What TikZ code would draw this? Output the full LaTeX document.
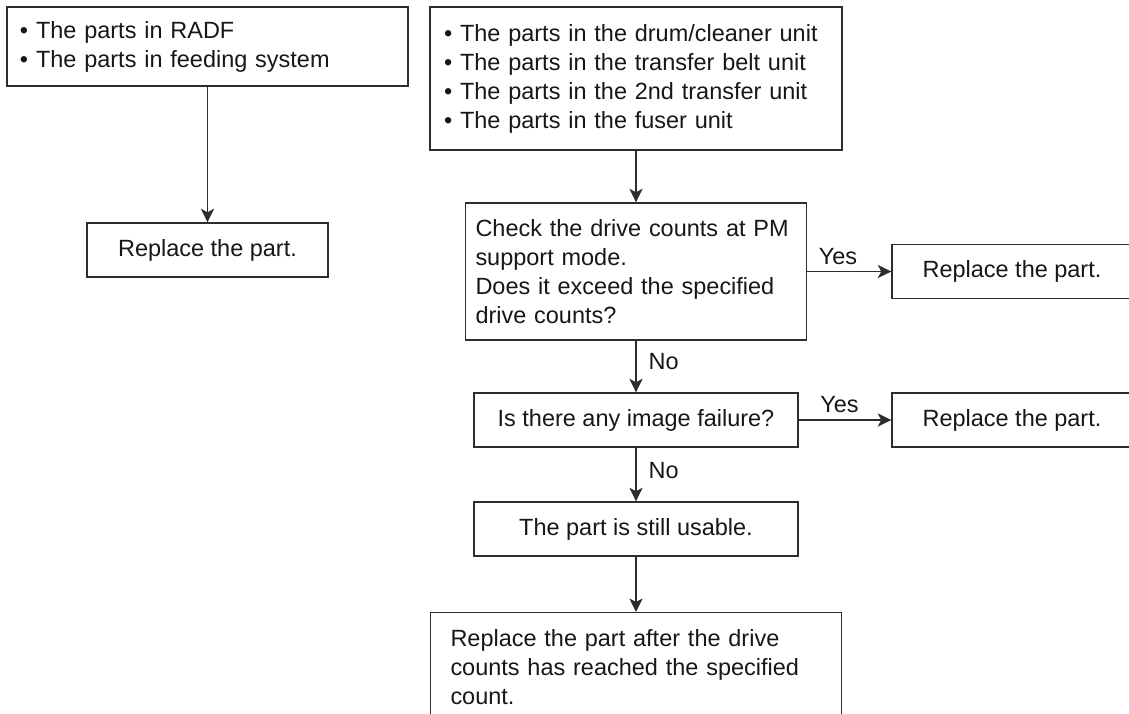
\documentclass[tikz,border=0pt]{standalone}
\usepackage{fontspec}
\setmainfont{Liberation Sans}
\usetikzlibrary{arrows.meta}
\definecolor{linegray}{RGB}{45,45,45}
\definecolor{textblack}{RGB}{25,22,23}

\begin{document}
\begin{tikzpicture}[
    font=\fontsize{16.7pt}{20.63pt}\selectfont,
    >={Stealth[length=0.34cm,width=0.33cm,inset=0.09cm]},
    box/.style={draw=linegray, line width=1pt, text=textblack, inner sep=2pt},
    conn/.style={->, draw=linegray, line width=1pt},
    lbl/.style={text=textblack, inner sep=4.5pt}
]
    \clip (0,0) rectangle (28.225,-17.825);
    % Left column
    \node[box, align=left, text width=9.375cm, inner xsep=0.325cm, minimum height=1.975cm] (radf) at (5.1875,-1.1625)
        {• The parts in RADF\\ • The parts in feeding system};
    \node[box, minimum width=6.025cm, minimum height=1.35cm] (rep1) at (5.1875,-6.25) {Replace the part.};
    \draw[conn] (radf) -- (rep1);
    % Main column
    \node[box, align=left, text width=9.6cm, inner xsep=0.35cm, minimum height=3.575cm] (units) at (15.9,-1.9625)
        {• The parts in the drum/cleaner unit\\ • The parts in the transfer belt unit\\
         • The parts in the 2nd transfer unit\\ • The parts in the fuser unit};
    \node[box, align=left, text width=8.025cm, inner xsep=0.25cm, minimum height=3.425cm] (check) at (15.9,-6.7875)
        {Check the drive counts at PM\\ support mode.\\ Does it exceed the specified\\ drive counts?};
    \node[box, minimum width=8.1cm, minimum height=1.35cm] (fail) at (15.9,-10.5) {Is there any image failure?};
    \node[box, minimum width=8.1cm, minimum height=1.35cm] (usable) at (15.9,-13.225) {The part is still usable.};
    \node[box, anchor=north, align=left, text width=9.275cm, inner xsep=0.5cm, inner ysep=0.43cm] (final) at (15.9,-15.3)
        {Replace the part after the drive\\ counts has reached the specified\\ count.};
    % Right column
    \foreach \n/\y in {rep2/-6.7875, rep3/-10.5}
        \node[box, minimum width=6cm, minimum height=1.35cm] (\n) at (25.3,\y) {Replace the part.};
    % Connectors
    \draw[conn] (units) -- (check);
    \draw[conn] (check) -- node[lbl, above, pos=0.365] {Yes} (rep2);
    \draw[conn] (check) -- node[lbl, right=4pt, pos=0.41] {No} (fail);
    \draw[conn] (fail) -- node[lbl, above, pos=0.44] {Yes} (rep3);
    \draw[conn] (fail) -- node[lbl, right=4pt, pos=0.42] {No} (usable);
    \draw[conn] (usable) -- (final);
\end{tikzpicture}
\end{document}
